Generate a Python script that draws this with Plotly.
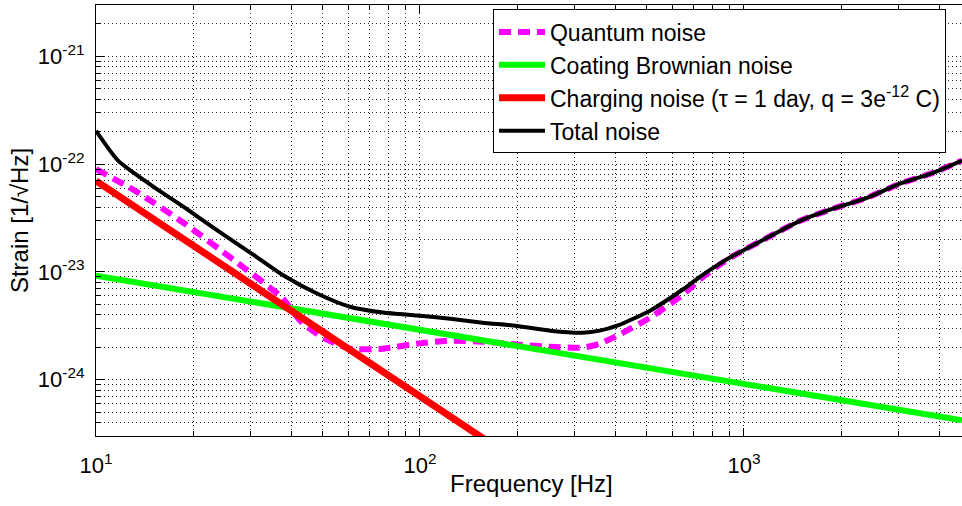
import plotly.graph_objects as go

# ---- data ----
quantum_f = [10, 13.2, 18.8, 26.8, 37.5, 42.7, 50.2, 60.8, 76.9, 97.9, 124, 156, 199, 252, 318, 359,
             406, 513, 649, 731, 826, 925, 1178, 1489, 1883, 2398, 3030, 3830, 4710]
quantum_h = [9.0e-23, 5.66e-23, 2.8e-23, 1.27e-23, 5.77e-24, 3.52e-24, 2.45e-24, 1.94e-24, 1.94e-24,
             2.16e-24, 2.3e-24, 2.25e-24, 2.12e-24, 2.02e-24, 1.98e-24, 2.16e-24, 2.56e-24, 3.76e-24,
             6.2e-24, 8.5e-24, 1.12e-23, 1.4e-23, 2.07e-23, 2.98e-23, 3.86e-23, 4.87e-23, 6.58e-23,
             8.3e-23, 1.08e-22]

coating_f = [10, 100, 1000, 4710]
coating_h = [9.2e-24, 2.9e-24, 9.2e-25, 4.2e-25]

charging_f = [10, 40, 100, 200]
charging_h = [7.0e-23, 4.4e-24, 7.0e-25, 1.75e-25]

total_f = [10, 11.7, 14.9, 18.8, 23.8, 30.3, 37.8, 48.1, 60.8, 76.9, 97.9, 124, 156, 199, 252, 318,
           359, 406, 513, 649, 731, 826, 925, 1178, 1489, 1883, 2398, 3030, 3830, 4710]
total_h = [2.04e-22, 1.08e-22, 6.3e-23, 3.95e-23, 2.4e-23, 1.47e-23, 9.3e-24, 6.3e-24, 4.75e-24,
           4.19e-24, 3.93e-24, 3.68e-24, 3.38e-24, 3.15e-24, 2.85e-24, 2.73e-24, 2.85e-24, 3.17e-24,
           4.37e-24, 6.9e-24, 9.0e-24, 1.15e-23, 1.41e-23, 2.07e-23, 2.98e-23, 3.86e-23, 4.87e-23,
           6.58e-23, 8.3e-23, 1.08e-22]

x_tickvals = [10, 100, 1000]
x_ticktext = ["10<sup>1</sup>", "10<sup>2</sup>", "10<sup>3</sup>"]
y_tickvals = [1e-24, 1e-23, 1e-22, 1e-21]
y_ticktext = ["10<sup>-24</sup>", "10<sup>-23</sup>", "10<sup>-22</sup>", "10<sup>-21</sup>"]

x_minor = [k * 10 ** e for e in (1, 2, 3) for k in range(2, 10)]
y_minor = [k * 10.0 ** e for e in (-25, -24, -23, -22, -21) for k in range(2, 10)]

FONT = "Liberation Sans, Arial, sans-serif"
GRID = "rgba(0,0,0,0.85)"

fig = go.Figure()
fig.add_trace(go.Scatter(x=quantum_f, y=quantum_h, mode="lines", name="Quantum noise",
                         line=dict(color="#FF00FF", width=6, dash="12px,7px", shape="spline",
                                   smoothing=0.6)))
fig.add_trace(go.Scatter(x=coating_f, y=coating_h, mode="lines", name="Coating Brownian noise",
                         line=dict(color="#00FF00", width=6)))
fig.add_trace(go.Scatter(x=charging_f, y=charging_h, mode="lines",
                         name="Charging noise (\u03c4 = 1 day, q = 3e<sup>-12</sup> C)",
                         line=dict(color="#FF0000", width=7)))
fig.add_trace(go.Scatter(x=total_f, y=total_h, mode="lines", name="Total noise",
                         line=dict(color="#000000", width=4, shape="spline", smoothing=0.6)))

common = dict(showgrid=True, gridcolor=GRID, gridwidth=1, griddash="1px,3px",
              showline=True, linecolor="black", linewidth=1, ticks="inside", ticklen=8,
              tickcolor="black", zeroline=False, automargin=False,
              tickfont=dict(family=FONT, size=22, color="black"))
minor_common = dict(tickmode="array", ticks="inside", ticklen=5, tickcolor="black",
                    showgrid=True, gridcolor=GRID, griddash="1px,3px", gridwidth=1)

fig.update_xaxes(type="log", range=[1, 3.673], tickmode="array", tickvals=x_tickvals,
                 ticktext=x_ticktext, mirror="allticks", ticklabelstandoff=10,
                 minor=dict(tickvals=x_minor, **minor_common),
                 **common)
fig.update_yaxes(type="log", range=[-24.523, -20.523], tickmode="array", tickvals=y_tickvals,
                 ticktext=y_ticktext, mirror=False, ticklabelstandoff=6,
                 minor=dict(tickvals=y_minor, **minor_common),
                 title=dict(text="Strain [1/\u221aHz]", font=dict(family=FONT, size=24, color="black"),
                            standoff=2),
                 **common)

fig.add_annotation(text="Frequency [Hz]", xref="paper", yref="paper", x=0.503, y=-0.1097,
                   xanchor="center", yanchor="middle", showarrow=False,
                   font=dict(family=FONT, size=24, color="black"))

fig.update_layout(
    width=962, height=506,
    margin=dict(l=96, r=0, t=5, b=70, autoexpand=False),
    paper_bgcolor="white", plot_bgcolor="white",
    font=dict(family=FONT, size=22, color="black"),
    showlegend=True,
    legend=dict(x=0.4584, y=0.9896, xanchor="left", yanchor="top",
                bgcolor="white", bordercolor="black", borderwidth=1,
                font=dict(family=FONT, size=23, color="black"),
                itemwidth=46, tracegroupgap=0),
)

fig.write_html(
    "out.html",
    config={"displayModeBar": False},
    post_script="document.body.style.margin='0';document.body.style.padding='0';"
                "document.body.style.overflow='hidden';"
                "document.documentElement.style.overflow='hidden';",
)
